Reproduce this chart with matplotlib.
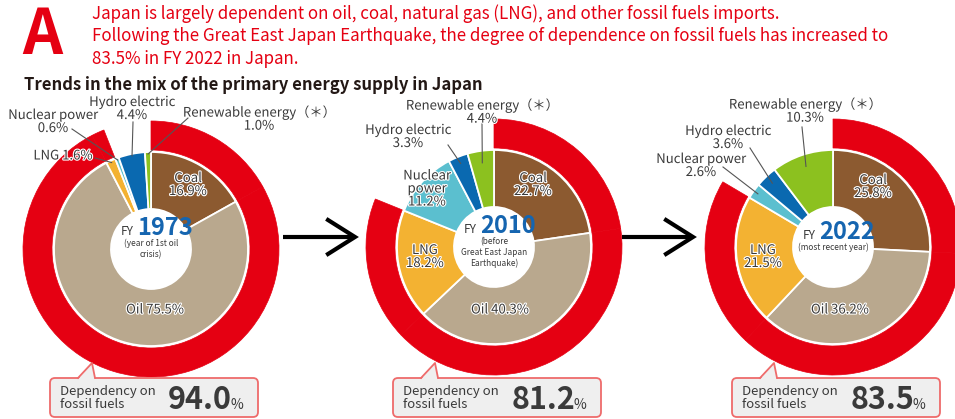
import numpy as np
import matplotlib
matplotlib.use("Agg")
import matplotlib.pyplot as plt
from matplotlib.patches import FancyBboxPatch, Polygon
import matplotlib.patheffects as pe

plt.rcParams['font.family'] = ['Noto Sans CJK JP', 'DejaVu Sans']

# energy mix (%) : coal, oil, LNG, nuclear, hydro, renewable
sources = ["Coal", "Oil", "LNG", "Nuclear power", "Hydro electric", "Renewable energy"]
years = ["1973", "2010", "2022"]
year_notes = ["(year of 1st oil\ncrisis)", "(before\nGreat East Japan\nEarthquake)", "(most recent year)"]
mix_1973 = [16.9, 75.5, 1.6, 0.6, 4.4, 1.0]
mix_2010 = [22.7, 40.3, 18.2, 11.2, 3.3, 4.4]
mix_2022 = [25.8, 36.2, 21.5, 2.6, 3.6, 10.3]
mixes = [mix_1973, mix_2010, mix_2022]

colors = ["#8c5a30", "#b9a88e", "#f3b232", "#5bbfcf", "#0a69b0", "#8cc11f"]
RED = "#e50012"
BLUE = "#1565b0"
DARK = "#3a3a3a"

W, H = 955, 419


def py(y):
    return H - y


fig = plt.figure(figsize=(9.55, 4.19), dpi=100)
ax = fig.add_axes([0, 0, 1, 1])

centers = [(151, 249), (494, 247), (833, 247)]
R_PIE, R_HOLE = 97, 40
R_RING_OUT, R_RING_IN = 128, 99


def wedge_point(vals, i, r, cx, cy):
    tot = sum(vals)
    frac = (sum(vals[:i]) + vals[i] / 2) / tot
    ang = np.deg2rad(90 - 360 * frac)
    return cx + r * np.cos(ang), py(cy) + r * np.sin(ang)


halo = [pe.withStroke(linewidth=1.6, foreground="white")]

# label layouts per donut: (source index, text, text xy, align, leader start, leader radius)
outside = [
    [(4, "Hydro electric\n{:.1f}%", (132, 109), "center", (133, 122), 95),
     (3, "Nuclear power\n{:.1f}%", (53, 122), "center", (72, 129), 95),
     (2, "LNG {:.1f}%", (93, 156), "right", (95, 158), 95),
     (5, "Renewable energy（＊）\n{:.1f}%", (259, 119), "center", (188, 118), 95)],
    [(5, "Renewable energy（＊）\n{:.1f}%", (482, 112), "center", (482, 123), 85),
     (4, "Hydro electric\n{:.1f}%", (408, 137), "center", (448, 145), 90)],
    [(5, "Renewable energy（＊）\n{:.1f}%", (805, 111), "center", (802, 127), 85),
     (4, "Hydro electric\n{:.1f}%", (728, 138), "center", (750, 148), 88),
     (3, "Nuclear power\n{:.1f}%", (701, 166), "center", (723, 167), 92)],
]
inside = [
    [(0, "Coal\n{:.1f}%", (188, 185)), (1, "Oil {:.1f}%", (155, 310))],
    [(0, "Coal\n{:.1f}%", (533, 185)), (1, "Oil {:.1f}%", (500, 310)),
     (2, "LNG\n{:.1f}%", (425, 257)), (3, "Nuclear\npower\n{:.1f}%", (427, 189))],
    [(0, "Coal\n{:.1f}%", (873, 187)), (1, "Oil {:.1f}%", (840, 310)),
     (2, "LNG\n{:.1f}%", (763, 257))],
]

for k, (vals, (cx, cy)) in enumerate(zip(mixes, centers)):
    fossil = vals[:3]
    ring_vals = fossil + [sum(vals[3:])]
    ring, _ = ax.pie(ring_vals, colors=[RED] * 4, radius=R_RING_OUT, center=(cx, py(cy)),
                     startangle=90, counterclock=False,
                     wedgeprops=dict(width=R_RING_OUT - R_RING_IN, edgecolor=RED, linewidth=0.5))
    ring[-1].set_visible(False)

    ax.pie(vals, colors=colors, radius=R_PIE, center=(cx, py(cy)), startangle=90,
           counterclock=False,
           wedgeprops=dict(width=R_PIE - R_HOLE, edgecolor="white", linewidth=1.3))

    for i, txt, (tx, ty), ha, (lx, ly), r in outside[k]:
        ax.text(tx, py(ty), txt.format(vals[i]), ha=ha, va="center", fontsize=9.5,
                color=DARK, linespacing=1.0, multialignment="center", path_effects=halo)
        ex, ey = wedge_point(vals, i, r, cx, cy)
        ax.plot([lx, ex], [py(ly), ey], color="#555555", lw=0.8)

    for i, txt, (tx, ty) in inside[k]:
        ax.text(tx, py(ty), txt.format(vals[i]), ha="center", va="center", fontsize=9.5,
                color=DARK, linespacing=1.0, path_effects=halo)

    # centre caption
    yc = cy - 14 if k < 2 else cy - 8
    ax.text(cx - 17, py(yc), "FY", ha="right", va="baseline", fontsize=8.5, color=DARK)
    ax.text(cx - 14, py(yc), years[k], ha="left", va="baseline", fontsize=17,
            fontweight="bold", color=BLUE)
    ax.text(cx, py(yc + 4), year_notes[k], ha="center", va="top", fontsize=6,
            color=DARK, linespacing=1.25)

    # dependency callout
    bx = cx - 101
    box = FancyBboxPatch((bx, py(417)), 208, 39, boxstyle="round,pad=0,rounding_size=5",
                         facecolor="#efefef", edgecolor="#ee6b6b", lw=1.3)
    ax.add_patch(box)
    tri = Polygon([(bx + 28, py(378) - 1.5), (bx + 42, py(363)), (bx + 45, py(378) - 1.5)],
                  closed=True, facecolor="#efefef", edgecolor="none")
    ax.add_patch(tri)
    ax.plot([bx + 28, bx + 42, bx + 45], [py(378), py(363), py(378)], color="#ee6b6b", lw=1.3)
    ax.text(bx + 10, py(398), "Dependency on\nfossil fuels", ha="left", va="center",
            fontsize=9.5, color=DARK, linespacing=1.05)
    ax.text(bx + 182, py(409), "{:.1f}".format(sum(fossil)), ha="right", va="baseline",
            fontsize=22, fontweight="bold", color=DARK)
    ax.text(bx + 180, py(409), "%", ha="left", va="baseline", fontsize=10, color=DARK)

# arrows between donuts
for x0, x1 in [(283, 355), (622, 693)]:
    ax.plot([x0, x1 - 2], [py(237), py(237)], color="black", lw=3, solid_capstyle="butt")
    ax.plot([x1 - 27, x1, x1 - 27], [py(220), py(237), py(254)], color="black", lw=3,
            solid_joinstyle="miter")

# header
ax.text(22, py(54), "A", fontsize=45, fontweight="bold", color=RED, va="baseline")
header = ("Japan is largely dependent on oil, coal, natural gas (LNG), and other fossil fuels imports.\n"
          "Following the Great East Japan Earthquake, the degree of dependence on fossil fuels has increased to\n"
          "83.5% in FY 2022 in Japan.")
ax.text(92, py(4), header, fontsize=12.2, color=RED, va="top", ha="left", linespacing=1.33)
ax.text(24, py(90), "Trends in the mix of the primary energy supply in Japan", fontsize=12,
        fontweight="bold", color="#231815", va="baseline")

ax.set_xlim(0, W)
ax.set_ylim(0, H)
ax.set_aspect("equal")
ax.axis("off")

fig.savefig("out.png", dpi=100)
